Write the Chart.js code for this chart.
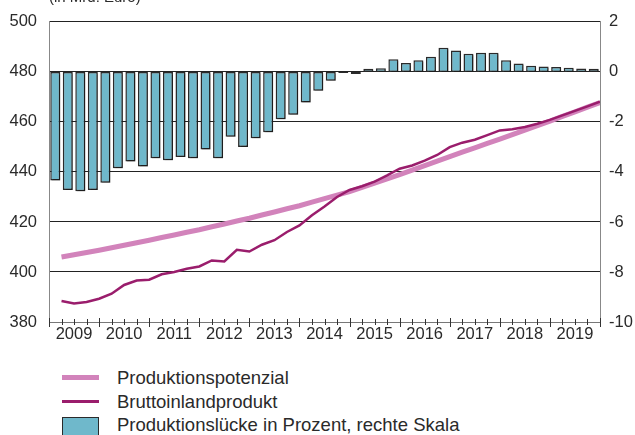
<!DOCTYPE html>
<html lang="de">
<head>
<meta charset="utf-8">
<script src="https://cdn.jsdelivr.net/npm/chart.js@4.4.1/dist/chart.umd.min.js"></script>
<style>
    body { margin: 0; width: 635px; height: 435px; overflow: hidden; background: #fff; position: relative; }
    #chartBox { position: absolute; left: 0; top: 0; width: 635px; height: 350px; }
    .legend-text { position: absolute; left: 117px; font: 18.5px "Liberation Sans", Arial, Helvetica, sans-serif; line-height: 20px; color: #2a2a2a; white-space: nowrap; }
    .legend-mark { position: absolute; left: 62px; width: 37px; }
</style>
</head>
<body>
<div id="chartBox"><canvas id="gapChart" width="635" height="350"></canvas></div>

<div class="legend-mark" style="top:374.5px;height:5px;background:#d283bb;"></div>
<div class="legend-text" style="top:367.5px;">Produktionspotenzial</div>
<div class="legend-mark" style="top:399.5px;height:3px;background:#9a1d6c;"></div>
<div class="legend-text" style="top:392px;">Bruttoinlandprodukt</div>
<div class="legend-mark" style="top:417px;height:20px;width:35px;left:62px;background:#6fb8cb;border:1.5px solid #2a2a2a;"></div>
<div class="legend-text" style="top:415px;">Produktionslücke in Prozent, rechte Skala</div>

<script>
// Jahre (x-Achse, je 4 Quartale)
const years = ['2009', '2010', '2011', '2012', '2013', '2014', '2015', '2016', '2017', '2018', '2019'];

// Produktionslücke in Prozent (rechte Skala), Quartale 2009 Q1 - 2019 Q4
const gap = [
    -4.34, -4.72, -4.77, -4.72,
    -4.43, -3.85, -3.58, -3.78,
    -3.45, -3.53, -3.40, -3.45,
    -3.10, -3.45, -2.59, -3.00,
    -2.65, -2.41, -1.89, -1.71,
    -1.22, -0.75, -0.35, -0.04,
    -0.08, 0.13, 0.15, 0.51,
    0.36, 0.47, 0.61, 0.97,
    0.86, 0.73, 0.77, 0.77,
    0.47, 0.34, 0.25, 0.22,
    0.20, 0.17, 0.14, 0.13
];

// Produktionspotenzial (Mrd. Euro)
const potential = [
    406.0, 406.9, 407.8, 408.7,
    409.7, 410.7, 411.7, 412.7,
    413.8, 414.8, 415.9, 416.9,
    418.1, 419.2, 420.4, 421.5,
    422.8, 424.0, 425.3, 426.5,
    427.9, 429.3, 430.7, 432.1,
    433.8, 435.5, 437.2, 438.9,
    440.7, 442.5, 444.3, 446.1,
    447.9, 449.6, 451.4, 453.1,
    454.9, 456.7, 458.5, 460.3,
    462.2, 464.0, 465.9, 467.7
];

// Bruttoinlandprodukt (Mrd. Euro)
const gdp = [
    388.4, 387.4, 388.0, 389.3,
    391.3, 394.8, 396.6, 396.9,
    399.1, 400.0, 401.3, 402.2,
    404.6, 404.2, 408.9, 408.2,
    410.9, 412.7, 416.0, 418.6,
    422.7, 426.2, 430.0, 432.8,
    434.3, 436.1, 438.6, 441.3,
    442.6, 444.5, 446.8, 449.9,
    451.7, 452.9, 454.7, 456.6,
    457.1, 458.0, 459.3, 460.8,
    462.6, 464.4, 466.2, 468.1
];

const fontFamily = '"Liberation Sans", Arial, Helvetica, sans-serif';
const textColor = '#2a2a2a';

// Balken in der Quartalsmitte, Linien am Quartalsende
const gapPoints = gap.map((v, i) => ({ x: i + 0.5, y: v }));
const potentialPoints = potential.map((v, i) => ({ x: i + 1, y: v }));
const gdpPoints = gdp.map((v, i) => ({ x: i + 1, y: v }));

// Quartals-Striche und Jahresstriche an der x-Achse
const quarterTicksPlugin = {
    id: 'quarterTicks',
    afterDraw(chart) {
        const ctx = chart.ctx;
        const xScale = chart.scales.x;
        const bottom = chart.chartArea.bottom;
        ctx.save();
        ctx.strokeStyle = '#333';
        ctx.lineWidth = 1;
        for (let i = 0; i <= gap.length; i++) {
            const px = Math.round(xScale.getPixelForValue(i)) + 0.5;
            const major = i % 4 === 0;
            ctx.beginPath();
            ctx.moveTo(px, bottom - (major ? 4 : 3));
            ctx.lineTo(px, bottom + (major ? 5 : 3));
            ctx.stroke();
        }
        ctx.restore();
    }
};

// Abgeschnittene Einheit oben links
const unitLabelPlugin = {
    id: 'unitLabel',
    afterDraw(chart) {
        const ctx = chart.ctx;
        ctx.save();
        ctx.font = '15px ' + fontFamily;
        ctx.fillStyle = textColor;
        ctx.textBaseline = 'alphabetic';
        ctx.fillText('(in Mrd. Euro)', chart.chartArea.left, 2);
        ctx.restore();
    }
};

// Leichter Schatten hinter den Balken
const barShadowPlugin = {
    id: 'barShadow',
    beforeDatasetDraw(chart, args) {
        if (chart.data.datasets[args.index].type !== 'bar') return;
        const ctx = chart.ctx;
        ctx.save();
        ctx.shadowColor = 'rgba(0, 0, 0, 0.3)';
        ctx.shadowOffsetX = 1.5;
        ctx.shadowOffsetY = 1.5;
        ctx.shadowBlur = 0;
    },
    afterDatasetDraw(chart, args) {
        if (chart.data.datasets[args.index].type !== 'bar') return;
        chart.ctx.restore();
    }
};

const gapChart = new Chart(document.getElementById('gapChart'), {
    type: 'bar',
    data: {
        datasets: [
            {
                type: 'line',
                label: 'Bruttoinlandprodukt',
                data: gdpPoints,
                yAxisID: 'y',
                borderColor: '#9a1d6c',
                borderWidth: 2.5,
                pointRadius: 0,
                tension: 0,
                order: 1
            },
            {
                type: 'line',
                label: 'Produktionspotenzial',
                data: potentialPoints,
                yAxisID: 'y',
                borderColor: '#d283bb',
                borderWidth: 5,
                pointRadius: 0,
                tension: 0,
                order: 2
            },
            {
                type: 'bar',
                label: 'Produktionslücke in Prozent, rechte Skala',
                data: gapPoints,
                yAxisID: 'y1',
                backgroundColor: '#6fb8cb',
                borderColor: '#2a2a2a',
                borderWidth: 1.5,
                borderSkipped: false,
                barPercentage: 0.8,
                categoryPercentage: 1,
                order: 3
            }
        ]
    },
    options: {
        responsive: false,
        maintainAspectRatio: false,
        animation: false,
        layout: { padding: { top: 19, left: 0, right: 0, bottom: 0 } },
        plugins: {
            legend: { display: false },
            tooltip: { enabled: false }
        },
        scales: {
            x: {
                type: 'linear',
                min: 0,
                max: gap.length,
                offset: false,
                afterBuildTicks: function(scale) {
                    scale.ticks = gap.concat([0]).map((_, i) => ({ value: i }));
                },
                afterFit: function(scale) { scale.height = 28; },
                ticks: {
                    autoSkip: false,
                    maxRotation: 0,
                    padding: 3,
                    color: textColor,
                    font: { family: fontFamily, size: 16.5 },
                    callback: function(value) {
                        return value % 4 === 2 ? years[(value - 2) / 4] : '';
                    }
                },
                grid: { display: false, drawTicks: false },
                border: { display: true, color: '#777', width: 1 }
            },
            y: {
                position: 'left',
                min: 380,
                max: 500,
                afterFit: function(scale) { scale.width = 49; },
                ticks: {
                    stepSize: 20,
                    padding: 12,
                    color: textColor,
                    font: { family: fontFamily, size: 16.5 }
                },
                grid: {
                    drawTicks: false,
                    lineWidth: 1,
                    color: function(context) {
                        return context.tick && context.tick.value === 380 ? 'rgba(0,0,0,0)' : '#222';
                    }
                },
                border: { display: true, color: '#888', width: 1 }
            },
            y1: {
                position: 'right',
                min: -10,
                max: 2,
                afterFit: function(scale) { scale.width = 35; },
                ticks: {
                    stepSize: 2,
                    padding: 9,
                    color: textColor,
                    font: { family: fontFamily, size: 16.5 }
                },
                grid: { display: false, drawTicks: false },
                border: { display: true, color: '#888', width: 1 }
            }
        }
    },
    plugins: [barShadowPlugin, quarterTicksPlugin, unitLabelPlugin]
});
</script>
</body>
</html>
